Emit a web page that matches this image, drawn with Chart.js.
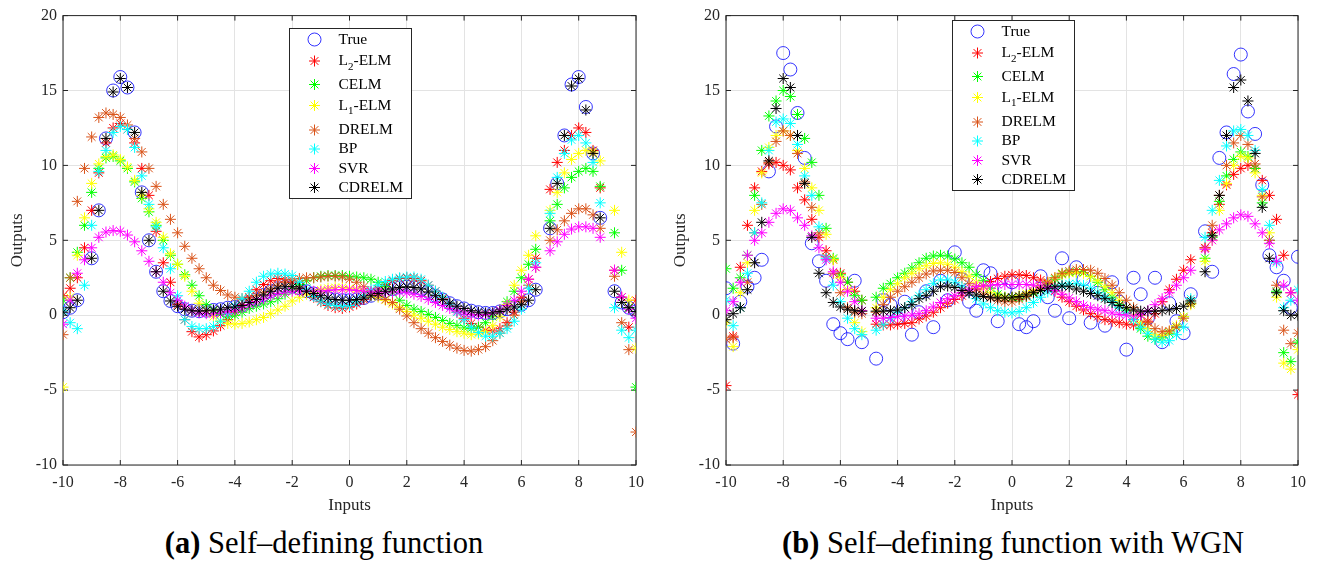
<!DOCTYPE html>
<html>
<head>
<meta charset="utf-8">
<script src="https://cdn.jsdelivr.net/npm/chart.js@4.4.1/dist/chart.umd.min.js"></script>
<style>
  body { margin: 0; background: #fff; width: 1319px; height: 562px; overflow: hidden; position: relative;
         font-family: "Liberation Serif", "Times New Roman", serif; }
  #chartA { position: absolute; left: 0; top: 0; }
  #chartB { position: absolute; left: 660px; top: 0; }
  .cap { position: absolute; top: 526px; font-size: 30.5px; line-height: 34px; color: #000;
         white-space: nowrap; transform: translateX(-50%); }
</style>
</head>
<body>
<canvas id="chartA" width="660" height="520"></canvas>
<canvas id="chartB" width="659" height="520"></canvas>
<div class="cap" style="left:324px"><b>(a)</b> Self–defining function</div>
<div class="cap" style="left:1013px"><b>(b)</b> Self–defining function with WGN</div>
<script>
// inputs shared by both panels
const inputs = [
  -10, -9.75, -9.5, -9.25, -9, -8.75, -8.5, -8.25,
  -8, -7.75, -7.5, -7.25, -7, -6.75, -6.5, -6.25,
  -6, -5.75, -5.5, -5.25, -5, -4.75, -4.5, -4.25,
  -4, -3.75, -3.5, -3.25, -3, -2.75, -2.5, -2.25,
  -2, -1.75, -1.5, -1.25, -1, -0.75, -0.5, -0.25,
  0, 0.25, 0.5, 0.75, 1, 1.25, 1.5, 1.75,
  2, 2.25, 2.5, 2.75, 3, 3.25, 3.5, 3.75,
  4, 4.25, 4.5, 4.75, 5, 5.25, 5.5, 5.75,
  6, 6.25, 6.5, 6.75, 7, 7.25, 7.5, 7.75,
  8, 8.25, 8.5, 8.75, 9, 9.25, 9.5, 9.75,
  10
];

const methodNames = ['True', 'L2-ELM', 'CELM', 'L1-ELM', 'DRELM', 'BP', 'SVR', 'CDRELM'];

// ---- (a) self-defining function ----
const trueA = [
  0.2, 0.5, 1.0, null, 3.8, 7.0, 11.8, 15.0,
  15.9, 15.2, 12.2, 8.2, 5.0, 2.9, 1.6, 0.95,
  0.6, 0.4, 0.3, 0.27, 0.3, 0.35, 0.4, 0.5,
  0.55, 0.65, 0.85, 1.05, 1.35, 1.6, 1.8, 1.9,
  1.9, 1.8, 1.6, 1.45, 1.3, 1.15, 1.05, 1.0,
  1.0, 1.05, 1.15, 1.3, 1.45, 1.6, 1.75, 1.85,
  1.9, 1.85, 1.75, 1.55, 1.3, 1.05, 0.8, 0.6,
  0.45, 0.3, 0.2, 0.15, 0.15, 0.25, 0.4, 0.55,
  0.7, 1.0, 1.7, null, 5.8, 8.8, 12.0, 15.4,
  15.9, 13.9, 10.8, 6.5, null, 1.6, 0.85, 0.5,
  0.25
];
const l2A = [
  1.3, 1.8, 2.5, 4.5, 7.0, 9.5, 11.5, 12.5,
  12.8, 12.4, 11.5, 9.8, 8.0, 5.6, 3.5, 2.2,
  0.7, -0.3, -1.1, -1.45, -1.3, -1.05, -0.7, -0.3,
  0.2, 0.7, 1.2, 1.7, 2.05, 2.3, 2.45, 2.4,
  2.2, 1.9, 1.55, 1.2, 0.9, 0.65, 0.5, 0.45,
  0.55, 0.75, 1.05, 1.4, 1.75, 2.05, 2.3, 2.45,
  2.5, 2.45, 2.3, 2.0, 1.6, 1.15, 0.7, 0.2,
  -0.2, -0.55, -0.8, -1.0, -1.05, -0.9, -0.5, 0.2,
  1.2, 2.4, 3.8, null, 8.4, 10.2, 11.0, 12.0,
  12.5, 12.2, 11.0, 8.5, null, 3.0, 1.2, -0.8,
  1.0
];
const celmA = [
  1.0, 2.5, 4.2, 6.0, 8.2, 9.8, 10.5, 10.6,
  10.3, 9.8, 8.9, 7.8, 6.9, 6.0, 5.0, 4.0,
  3.4, 2.7, 2.0, 1.3, 0.7, 0.3, 0.05, -0.1,
  0.0, 0.2, 0.45, 0.6, 0.75, 0.9, 1.1, 1.4,
  1.75, 2.05, 2.3, 2.5, 2.6, 2.65, 2.65, 2.65,
  2.6, 2.55, 2.5, 2.4, 2.2, 1.9, 1.5, 1.0,
  0.65, 0.4, 0.25, 0.05, -0.15, -0.35, -0.55, -0.7,
  -0.85, -0.9, -0.8, -0.5, -0.1, 0.35, 0.9, 1.6,
  2.5, 3.4, 4.4, null, 6.3, 7.4, 8.5, 9.2,
  9.6, 9.8, 9.6, 8.6, null, 5.5, 3.0, 0.5,
  -4.8
];
const l1A = [
  -4.8, 1.2, 4.0, 6.5, 8.8, 10.1, 10.6, 10.7,
  10.4, 9.9, 9.0, 8.0, 7.1, 6.2, 5.2, 4.1,
  3.4, 2.6, 1.6, 0.8, 0.3, -0.1, -0.4, -0.55,
  -0.6, -0.55, -0.45, -0.3, -0.15, 0.1, 0.35, 0.6,
  0.95, 1.2, 1.4, 1.55, 1.7, 1.8, 1.85, 1.85,
  1.8, 1.75, 1.6, 1.4, 1.2, 1.0, 0.75, 0.5,
  0.25, 0.0, -0.2, -0.4, -0.6, -0.8, -0.95, -1.1,
  -1.2, -1.3, -1.25, -1.1, -0.7, -0.1, 0.7, 2.0,
  3.0, 4.0, 5.3, null, 7.0, 8.2, 9.5, 10.4,
  10.8, 11.0, 10.9, 10.3, null, 7.0, 4.2, 1.0,
  -2.2
];
const drelmA = [
  -1.3, 2.5, 7.6, 9.8, 11.9, 13.2, 13.5, 13.4,
  13.2, 12.7, 11.8, 10.9, 9.8, 8.6, 7.4, 6.4,
  5.5, 4.6, 3.8, 3.1, 2.5, 2.0, 1.65, 1.35,
  1.2, 1.1, 1.15, 1.3, 1.5, 1.75, 2.0, 2.2,
  2.35, 2.45, 2.5, 2.5, 2.55, 2.6, 2.6, 2.55,
  2.4, 2.2, 1.9, 1.6, 1.3, 1.05, 0.85, 0.4,
  -0.05, -0.5, -0.9, -1.2, -1.5, -1.75, -2.0, -2.2,
  -2.35, -2.4, -2.3, -2.1, -1.7, -1.2, -0.7, 0.0,
  0.9, 2.0, 3.2, null, 5.0, 5.7, 6.3, 6.8,
  7.1, 7.1, 6.7, 5.8, null, 2.6, -0.5, -2.3,
  -7.8
];
const bpA = [
  0.3, -0.5, -0.9, 2.0, 6.0, 9.6, 11.0, 12.2,
  12.6, 12.4, 11.2, 9.3, 7.4, 5.9, 4.5, 3.1,
  1.3, -0.3, -0.75, -0.9, -0.9, -0.75, -0.4, 0.1,
  0.6, 1.1, 1.6, 2.2, 2.6, 2.75, 2.8, 2.75,
  2.65, 2.2, 1.7, 1.25, 0.95, 0.75, 0.65, 0.6,
  0.65, 0.9, 1.3, 1.7, 2.0, 2.25, 2.4, 2.5,
  2.55, 2.55, 2.4, 2.0, 1.6, 1.2, 0.7, 0.2,
  -0.3, -0.8, -1.15, -1.4, -1.4, -1.2, -0.9, -0.4,
  0.4, 1.8, 3.5, null, 6.8, 9.2, 10.8, 11.7,
  12.0, 11.5, 10.2, 7.5, null, 0.5, -1.0, -1.5,
  -1.0
];
const svrA = [
  -0.6, 1.0, 2.8, 3.7, 4.5, 5.2, 5.55, 5.65,
  5.6, 5.35, 4.9, 4.3, 3.6, 2.9, 2.2, 1.5,
  1.0, 0.6, 0.3, 0.15, 0.1, 0.1, 0.15, 0.25,
  0.35, 0.5, 0.7, 0.9, 1.1, 1.3, 1.45, 1.55,
  1.6, 1.6, 1.6, 1.6, 1.6, 1.65, 1.7, 1.7,
  1.7, 1.65, 1.6, 1.55, 1.55, 1.55, 1.55, 1.55,
  1.5, 1.4, 1.25, 1.05, 0.85, 0.65, 0.45, 0.3,
  0.15, 0.05, 0.0, 0.05, 0.15, 0.35, 0.65, 1.0,
  1.6, 2.4, 3.2, null, 4.3, 4.9, 5.4, 5.75,
  5.9, 5.9, 5.8, 5.2, null, 3.0, 1.2, 0.4,
  -0.2
];
const cdrelmA = [
  0.2, 0.5, 1.0, null, 3.8, 7.0, 11.8, 14.9,
  15.8, 15.2, 12.2, 8.2, 5.0, 2.9, 1.6, 0.95,
  0.6, 0.4, 0.3, 0.27, 0.3, 0.35, 0.4, 0.5,
  0.55, 0.65, 0.85, 1.05, 1.35, 1.6, 1.8, 1.9,
  1.9, 1.8, 1.6, 1.45, 1.3, 1.15, 1.05, 1.0,
  1.0, 1.05, 1.15, 1.3, 1.45, 1.6, 1.75, 1.85,
  1.9, 1.85, 1.75, 1.55, 1.3, 1.05, 0.8, 0.6,
  0.45, 0.3, 0.2, 0.15, 0.15, 0.25, 0.4, 0.55,
  0.7, 1.0, 1.7, null, 5.8, 8.8, 12.0, 15.3,
  15.8, 13.7, 10.8, 6.5, null, 1.6, 0.85, 0.5,
  0.25
];

// ---- (b) with white gaussian noise ----
const trueB = [
  1.8, -1.9, 0.9, 1.9, 2.5, 3.7, 9.6, 12.6,
  17.5, 16.4, 13.5, 10.5, 4.8, 3.6, 2.3, -0.6,
  -1.2, -1.6, 2.3, -1.8, null, -2.9, 1.0, 0.7,
  -0.2, 0.9, -1.3, 0.2, 1.6, -0.8, 2.3, 1.0,
  4.2, 2.4, 0.9, 0.3, 3.0, 2.8, -0.4, 1.7,
  2.2, -0.6, -0.8, -0.4, 2.6, 1.2, 0.3, 3.8,
  -0.2, 3.2, 2.4, -0.5, 1.5, -0.7, 2.2, 0.9,
  -2.3, 2.5, 1.4, -0.2, 2.5, -1.8, 0.8, -0.4,
  -1.2, 1.4, null, 5.6, 2.9, 10.5, 12.2, 16.1,
  17.4, 13.6, 12.1, 8.7, 4.0, 3.2, 2.3, 0.5,
  3.9
];
const l2B = [
  -4.7, -1.4, 3.2, 6.0, 8.5, 9.6, 10.1, 10.2,
  10.0, 9.7, 8.5, 7.7, 6.4, 5.2, 4.3, 3.7,
  2.8, 2.2, 1.6, 1.0, null, -0.6, -0.65, -0.65,
  -0.6, -0.55, -0.5, -0.25, -0.05, 0.2, 0.5, 0.8,
  1.05, 1.3, 1.55, 1.75, 1.95, 2.25, 2.45, 2.6,
  2.7, 2.7, 2.65, 2.5, 2.35, 2.1, 1.6, 1.2,
  0.9, 0.6, 0.35, 0.1, -0.1, -0.3, -0.4, -0.5,
  -0.6, -0.65, -0.65, -0.4, 0.1, 0.9, 1.7, 2.4,
  3.0, 3.7, null, 4.5, 5.5, 7.4, 8.7, 9.4,
  9.8, 10.0, 9.8, 9.0, 8.0, 6.4, 4.0, 1.5,
  -5.3
];
const celmB = [
  3.1, 1.8, 2.5, 4.0, 8.0, 11.0, 13.3, 14.3,
  15.0, 14.6, 13.4, 11.8, 10.2, 8.0, 5.8, 3.8,
  2.7, 2.2, 1.3, 1.0, null, 1.2, 1.8, 2.1,
  2.5, 2.8, 3.15, 3.5, 3.8, 3.95, 4.0, 3.95,
  3.75, 3.5, 3.2, 2.7, 2.3, 1.8, 1.4, 1.2,
  1.15, 1.15, 1.25, 1.45, 1.7, 2.0, 2.4, 2.75,
  2.85, 2.9, 2.85, 2.6, 2.2, 1.7, 1.2, 0.7,
  0.3, -0.3, -0.9, -1.4, -1.6, -1.5, -1.2, -0.8,
  -0.1, 0.8, null, 3.8, 5.2, 7.6, 9.3, 10.4,
  10.9, 10.6, 9.8, 7.5, 5.0, 1.6, -2.5, -3.1,
  -1.8
];
const l1B = [
  -0.5, -2.1, 1.5, 3.5, 7.0, 9.5, 11.2, 12.0,
  12.3, 12.0, 11.0, 9.8, 8.5, 7.0, 5.4, 3.7,
  2.5, 1.7, -0.5, -1.1, null, 0.5, 1.2, 1.7,
  2.1, 2.5, 2.8, 3.1, 3.3, 3.45, 3.5, 3.4,
  3.2, 2.9, 2.6, 2.2, 1.8, 1.5, 1.3, 1.2,
  1.2, 1.3, 1.45, 1.65, 1.9, 2.2, 2.5, 2.7,
  2.8, 2.85, 2.8, 2.6, 2.3, 1.9, 1.5, 1.0,
  0.5, 0.0, -0.5, -0.9, -1.3, -1.35, -1.1, -0.7,
  -0.1, 0.7, null, 3.6, 5.0, 7.0, 8.8, 10.0,
  10.6, 10.5, 9.5, 8.0, 5.5, 1.2, -3.2, -3.6,
  -2.3
];
const drelmB = [
  -1.6, -1.5, 0.5, 2.2, 5.5, 7.4, 10.2, 11.6,
  12.3, 12.0, 10.8, 8.9, 7.2, 5.5, 3.9, 2.8,
  1.5, 0.5, 0.2, 0.1, null, 0.2, 0.7, 1.2,
  1.6, 1.9, 2.2, 2.5, 2.75, 2.95, 3.0, 3.0,
  2.85, 2.5, 2.1, 1.75, 1.4, 1.15, 1.0, 0.9,
  0.9, 1.05, 1.25, 1.55, 1.85, 2.2, 2.5, 2.8,
  2.95, 3.05, 3.05, 3.0, 2.8, 2.45, 2.0, 1.5,
  1.0, 0.5, 0.0, -0.5, -0.9, -1.1, -1.05, -0.8,
  -0.2, 0.8, null, 4.5, 6.0, 8.0, 10.0, 11.5,
  12.0, 11.4, 10.1, 7.9, 5.0, 2.0, -1.0, -1.9,
  -1.2
];
const bpB = [
  1.0, -0.7, 0.5, 2.8, 5.5, 7.5, 11.0, 12.9,
  13.1, 12.8, 11.4, 9.3, 8.0, 5.9, 3.8, 2.0,
  0.9, -0.2, -0.9, -1.3, null, -1.0, -0.6, -0.2,
  0.2, 0.5, 0.9, 1.3, 1.7, 2.1, 2.35, 2.35,
  2.2, 1.9, 1.5, 1.1, 0.75, 0.5, 0.3, 0.2,
  0.15, 0.25, 0.5, 0.85, 1.2, 1.55, 1.8, 2.0,
  2.1, 2.1, 2.0, 1.8, 1.5, 1.2, 0.9, 0.5,
  0.15, -0.3, -0.8, -1.2, -1.6, -1.8, -1.7, -1.3,
  -0.8, 1.1, null, 5.2, 7.0, 9.0, 11.3, 12.3,
  12.4, 12.0, 11.0, 8.4, 6.0, 3.5, 0.5, 1.0,
  1.7
];
const svrB = [
  0.3, 0.9, 2.2, 4.0, 5.0, 5.5, 6.2, 6.8,
  7.1, 7.0, 6.5, 6.0, 5.3, 4.5, 3.7, 2.9,
  2.2, 1.6, 0.9, 0.3, null, -0.2, -0.2, -0.15,
  -0.1, -0.05, 0.0, 0.1, 0.3, 0.55, 0.85, 1.1,
  1.3, 1.5, 1.7, 1.9, 1.95, 2.0, 2.05, 2.05,
  2.05, 2.05, 2.05, 2.0, 1.95, 1.85, 1.65, 1.4,
  1.15, 0.9, 0.65, 0.5, 0.4, 0.3, 0.15, 0.05,
  0.0, -0.05, 0.05, 0.3, 0.7, 1.1, 1.5, 2.0,
  2.5, 3.0, null, 4.4, 5.0, 5.7, 6.1, 6.5,
  6.7, 6.6, 6.1, 5.5, 4.8, 3.6, 2.0, 1.5,
  1.0
];
const cdrelmB = [
  -0.3, 0.1, 0.5, 1.7, 3.5, 6.2, 10.3, 13.8,
  15.8, 15.2, 12.0, 8.8, 5.2, 2.8, 1.5, 0.85,
  0.55, 0.4, 0.3, 0.27, null, 0.27, 0.27, 0.3,
  0.35, 0.5, 0.7, 1.1, 1.3, 1.6, 1.9, 1.95,
  1.85, 1.65, 1.5, 1.35, 1.25, 1.2, 1.15, 1.15,
  1.2, 1.25, 1.35, 1.5, 1.65, 1.8, 1.9, 1.95,
  1.9, 1.75, 1.6, 1.45, 1.3, 1.1, 0.85, 0.65,
  0.5, 0.35, 0.27, 0.27, 0.27, 0.3, 0.35, 0.45,
  0.6, 0.95, null, 2.9, 5.3, 8.0, 12.0, 15.2,
  15.7, 14.3, 10.8, 7.2, 3.8, 1.5, 0.3, 0.0,
  0.0
];

const colors = ['#0000ff', '#ff0000', '#00ff00', '#ffff00', '#d95319', '#00ffff', '#ff00ff', '#000000'];
const serif = '"Liberation Serif", "Times New Roman", serif';
const axisColor = '#262626';

function toPoints(ys) {
  return inputs.map((x, i) => ({ x: x, y: ys[i] })).filter(p => p.y !== null);
}

function drawMark(ctx, style, x, y, r, color, lw) {
  ctx.save();
  ctx.strokeStyle = color;
  ctx.lineWidth = lw;
  ctx.beginPath();
  if (style === 'circle') {
    ctx.arc(x, y, r, 0, Math.PI * 2);
  } else {
    const d = r * Math.SQRT1_2;
    ctx.moveTo(x - r, y); ctx.lineTo(x + r, y);
    ctx.moveTo(x, y - r); ctx.lineTo(x, y + r);
    ctx.moveTo(x - d, y - d); ctx.lineTo(x + d, y + d);
    ctx.moveTo(x - d, y + d); ctx.lineTo(x + d, y - d);
  }
  ctx.stroke();
  ctx.restore();
}

// box around the axes with inward ticks, like matlab
const frame = {
  id: 'frame',
  beforeDatasetsDraw(chart) {
    const { ctx, chartArea: a, scales: { x, y } } = chart;
    ctx.save();
    ctx.strokeStyle = axisColor;
    ctx.lineWidth = 1;
    ctx.strokeRect(a.left, a.top, a.right - a.left, a.bottom - a.top);
    ctx.beginPath();
    x.ticks.forEach(t => {
      const px = x.getPixelForValue(t.value);
      ctx.moveTo(px, a.bottom); ctx.lineTo(px, a.bottom - 5);
      ctx.moveTo(px, a.top); ctx.lineTo(px, a.top + 5);
    });
    y.ticks.forEach(t => {
      const py = y.getPixelForValue(t.value);
      ctx.moveTo(a.left, py); ctx.lineTo(a.left + 5, py);
      ctx.moveTo(a.right, py); ctx.lineTo(a.right - 5, py);
    });
    ctx.stroke();
    ctx.restore();
  }
};

// legend box inside the axes
const rowY = [11, 32.5, 56, 77, 101.5, 120.5, 140, 159];
const boxLegend = {
  id: 'boxLegend',
  afterDraw(chart, args, opts) {
    const { ctx, chartArea: a } = chart;
    const x0 = Math.round(a.left + opts.dx) + 0.5;
    const y0 = Math.round(a.top + opts.dy) + 0.5;
    ctx.save();
    ctx.fillStyle = '#fff';
    ctx.fillRect(x0, y0, 122, 170);
    ctx.strokeStyle = axisColor;
    ctx.lineWidth = 1;
    ctx.strokeRect(x0, y0, 122, 170);
    ctx.textBaseline = 'middle';
    ctx.fillStyle = '#000';
    chart.data.datasets.forEach((ds, i) => {
      const cy = y0 + rowY[i];
      drawMark(ctx, ds.pointStyle, x0 + 25, cy, ds.pointRadius, ds.borderColor, ds.borderWidth);
      let tx = x0 + 49;
      const m = ds.label.match(/^L(\d)(.*)$/);
      ctx.font = '15.5px ' + serif;
      if (m) {
        ctx.fillText('L', tx, cy);
        tx += ctx.measureText('L').width;
        ctx.font = '11px ' + serif;
        ctx.fillText(m[1], tx, cy + 6);
        tx += ctx.measureText(m[1]).width;
        ctx.font = '15.5px ' + serif;
        ctx.fillText(m[2], tx, cy);
      } else {
        ctx.fillText(ds.label, tx, cy);
      }
    });
    ctx.restore();
  }
};

function makeChart(id, series, cfg) {
  const datasets = series.map((ys, i) => ({
    label: methodNames[i],
    data: toPoints(ys),
    order: series.length - 1 - i,
    showLine: false,
    pointStyle: i === 0 ? 'circle' : 'star',
    pointRadius: i === 0 ? 6.5 : 5.5,
    borderWidth: i === 0 ? 0.8 : 1,
    borderColor: colors[i],
    backgroundColor: 'rgba(0,0,0,0)'
  }));
  return new Chart(document.getElementById(id), {
    type: 'scatter',
    data: { datasets: datasets },
    options: {
      responsive: false,
      animation: false,
      events: [],
      layout: { padding: { top: 13, right: cfg.padRight, bottom: 0, left: 0 } },
      plugins: {
        legend: { display: false },
        tooltip: { enabled: false },
        boxLegend: { dx: 226, dy: cfg.legendTop }
      },
      scales: {
        x: {
          type: 'linear', min: -10, max: 10,
          afterFit: s => { s.height = 55; },
          ticks: { stepSize: 2, padding: 8, color: axisColor, font: { family: serif, size: 16 } },
          grid: { color: '#e3e3e3', drawTicks: false },
          border: { display: false },
          title: { display: true, text: 'Inputs', color: axisColor, padding: { top: 0, bottom: 4 },
                   font: { family: serif, size: 17 } }
        },
        y: {
          min: -10, max: 20,
          afterFit: s => { s.width = cfg.yWidth; },
          ticks: { stepSize: 5, padding: 6, color: axisColor, font: { family: serif, size: 16 } },
          grid: { color: '#e3e3e3', drawTicks: false },
          border: { display: false },
          title: { display: true, text: 'Outputs', color: axisColor, padding: { top: cfg.yTitlePad, bottom: 0 },
                   font: { family: serif, size: 17 } }
        }
      }
    },
    plugins: [frame, boxLegend]
  });
}

makeChart('chartA', [trueA, l2A, celmA, l1A, drelmA, bpA, svrA, cdrelmA],
  { padRight: 24, yWidth: 63, yTitlePad: 7, legendTop: 12 });
makeChart('chartB', [trueB, l2B, celmB, l1B, drelmB, bpB, svrB, cdrelmB],
  { padRight: 21, yWidth: 66, yTitlePad: 10, legendTop: 4 });
</script>
</body>
</html>
